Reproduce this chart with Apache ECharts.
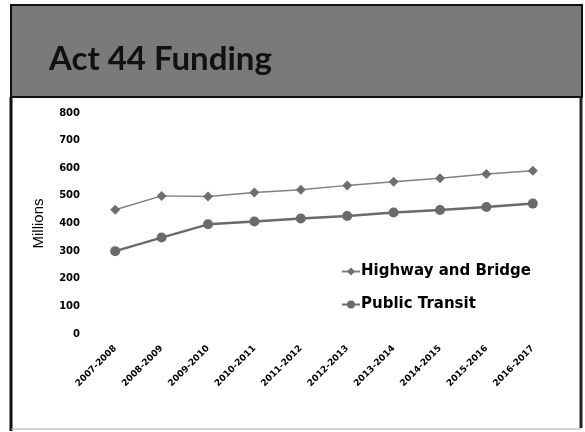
<!DOCTYPE html>
<html>
<head>
<meta charset="utf-8">
<script src="https://cdn.jsdelivr.net/npm/echarts@6/dist/echarts.min.js"></script>
<style>
  html, body { margin: 0; padding: 0; background: #fff; }
  #chart { width: 585px; height: 432px; }
</style>
</head>
<body>
<div id="chart"></div>
<script>
// 数据
var years = ['2007-2008', '2008-2009', '2009-2010', '2010-2011', '2011-2012',
             '2012-2013', '2013-2014', '2014-2015', '2015-2016', '2016-2017'];
var highway = [450, 500, 498, 512, 522, 538, 551, 564, 579, 591];
var transit = [300, 349, 397, 407, 418, 427, 440, 449, 460, 472];
var yTicks = [0, 100, 200, 300, 400, 500, 600, 700, 800];

var myChart = echarts.init(document.getElementById('chart'));

var option = {
    backgroundColor: '#fff',
    animation: false,
    title: {
        text: 'Act 44 Funding',
        left: 44,
        top: 38,
        textStyle: {
            fontFamily: 'Lato',
            fontWeight: 'bold',
            fontSize: 33,
            color: '#111'
        }
    },
    // 幻灯片边框和标题背景
    graphic: [
        { type: 'rect', z: -1, shape: { x: 11, y: 5, width: 571, height: 92 },
          style: { fill: '#7a7a7a', stroke: '#111', lineWidth: 2 } },
        { type: 'line', shape: { x1: 11, y1: 97, x2: 11, y2: 431 },
          style: { stroke: '#111', lineWidth: 3 } },
        { type: 'line', shape: { x1: 581, y1: 97, x2: 581, y2: 428 },
          style: { stroke: '#222', lineWidth: 3 } },
        { type: 'line', shape: { x1: 11, y1: 429, x2: 581, y2: 429 },
          style: { stroke: '#aaa', lineWidth: 1 } }
    ],
    legend: {
        orient: 'vertical',
        left: 336,
        top: 259,
        itemGap: 18,
        itemWidth: 18,
        itemHeight: 10,
        textStyle: {
            fontFamily: 'DejaVu Sans',
            fontWeight: 'bold',
            fontSize: 15,
            color: '#000',
            padding: [0, 0, 0, -4]
        },
        data: ['Highway and Bridge', 'Public Transit']
    },
    grid: {
        left: 92,
        right: 29,
        top: 113,
        bottom: 98,
        containLabel: false
    },
    xAxis: {
        type: 'category',
        data: years,
        boundaryGap: true,
        axisLine: { show: false },
        axisTick: { show: false },
        axisLabel: {
            rotate: 45,
            margin: 13,
            interval: 0,
            fontFamily: 'DejaVu Sans',
            fontWeight: 'bold',
            fontSize: 9,
            color: '#000'
        }
    },
    yAxis: {
        type: 'value',
        min: yTicks[0],
        max: yTicks[yTicks.length - 1],
        interval: 100,
        name: 'Millions',
        nameLocation: 'middle',
        nameGap: 46,
        nameTextStyle: {
            fontFamily: 'Liberation Sans',
            fontSize: 15,
            color: '#000'
        },
        splitLine: { show: false },
        axisLine: { show: false },
        axisTick: { show: false },
        axisLabel: {
            margin: 12,
            fontFamily: 'DejaVu Sans',
            fontWeight: 'bold',
            fontSize: 10,
            color: '#000'
        }
    },
    series: [
        {
            name: 'Highway and Bridge',
            type: 'line',
            data: highway,
            symbol: 'diamond',
            symbolSize: 10,
            itemStyle: { color: '#6e6e6e' },
            lineStyle: { color: '#808080', width: 1.5 }
        },
        {
            name: 'Public Transit',
            type: 'line',
            data: transit,
            symbol: 'circle',
            symbolSize: 10,
            itemStyle: { color: '#6a6a6a' },
            lineStyle: { color: '#6a6a6a', width: 2.5 }
        }
    ]
};

myChart.setOption(option);
</script>
</body>
</html>
